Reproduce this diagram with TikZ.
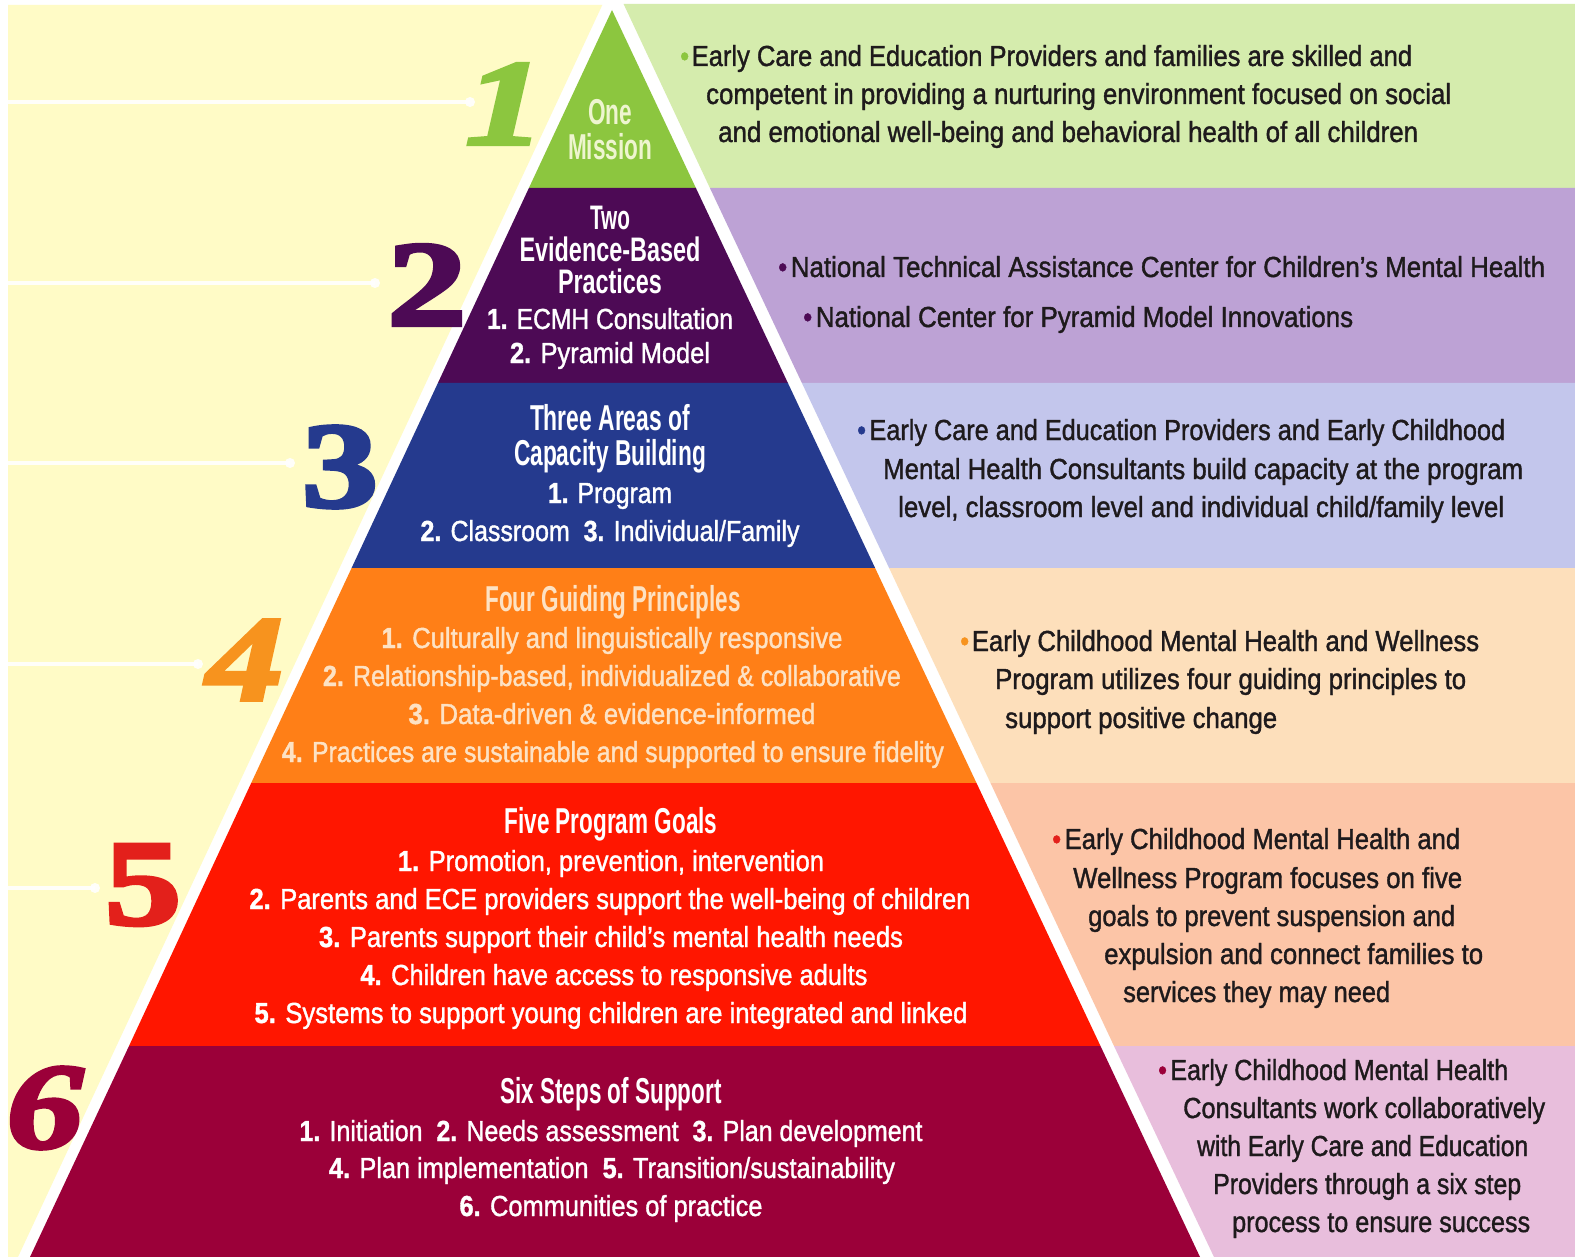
\documentclass[tikz,border=0pt]{standalone}
\usepackage{fontspec}
\usepackage{graphicx}
\setmainfont{Liberation Sans}
\newfontfamily\medfont[FakeBold=1.4]{Liberation Sans}
\newfontfamily\numfont[FakeBold=3]{Liberation Serif}
\usetikzlibrary{calc}
\definecolor{ybg}{HTML}{FFFBC6}
\definecolor{cgreen}{HTML}{8CC63F}
\definecolor{lgreen}{HTML}{D5ECAD}
\definecolor{cpurple}{HTML}{4D0A55}
\definecolor{lpurple}{HTML}{BDA2D5}
\definecolor{cblue}{HTML}{253A8E}
\definecolor{lblue}{HTML}{C3C6EC}
\definecolor{corange}{HTML}{FF7F17}
\definecolor{lpeach}{HTML}{FDDFBB}
\definecolor{cred}{HTML}{FF1600}
\definecolor{lsalmon}{HTML}{FCC5A7}
\definecolor{cmaroon}{HTML}{9B0039}
\definecolor{lpink}{HTML}{E8BEDC}
\definecolor{nfour}{HTML}{F7931E}
\definecolor{nfive}{HTML}{E3201B}
\definecolor{rtxt}{HTML}{1E1A1C}
\definecolor{tone}{HTML}{EEF5CF}
\definecolor{tfour}{HTML}{FDE2C4}
\newsavebox\fwbox
\newcommand\fw[2]{\sbox\fwbox{#2}\pgfmathsetmacro\fwr{#1/\the\wd\fwbox}\scalebox{\fwr}[1]{\usebox\fwbox}}
\tikzset{
  rtext/.style={anchor=base west, inner sep=0pt, text=rtxt, font=\medfont\fontsize{29}{34}\selectfont},
  ptext/.style={anchor=base, inner sep=0pt, font=\medfont\fontsize{29}{34}\selectfont},
  ptitle/.style={anchor=base, inner sep=0pt, font=\fontsize{36}{40}\selectfont\bfseries},
  numeral/.style={inner sep=0pt, anchor=center, font=\fontsize{122}{122}\selectfont\numfont\bfseries},
  guide/.style={draw=white, line width=4pt, opacity=0.9},
}
\begin{document}
\begin{tikzpicture}[x=1pt,y=-1pt]
\useasboundingbox (0,0) rectangle (1575,1257);
\fill[white] (0,0) rectangle (1575,1257);
% left background
\fill[ybg] (8,5) -- (602.3,5) -- (18,1257) -- (8,1257) -- cycle;
% right pastel bands
\fill[lgreen]  (623.6,4) -- (1575,4) -- (1575,188) -- (709.9,188) -- cycle;
\fill[lpurple] (709.9,188) -- (1575,188) -- (1575,383) -- (801.9,383) -- cycle;
\fill[lblue]   (801.9,383) -- (1575,383) -- (1575,568) -- (889.1,568) -- cycle;
\fill[lpeach]  (889.1,568) -- (1575,568) -- (1575,783) -- (990.5,783) -- cycle;
\fill[lsalmon] (990.5,783) -- (1575,783) -- (1575,1046) -- (1114,1046) -- cycle;
\fill[lpink]   (1114,1046) -- (1575,1046) -- (1575,1257) -- (1214,1257) -- cycle;
% pyramid
\coordinate (A) at (612,10);
\coordinate (L1) at (528.9,188);  \coordinate (R1) at (695.9,188);
\coordinate (L2) at (437.9,383);  \coordinate (R2) at (787.9,383);
\coordinate (L3) at (351.6,568);  \coordinate (R3) at (875.1,568);
\coordinate (L4) at (251.2,783);  \coordinate (R4) at (976.5,783);
\coordinate (L5) at (129.0,1046); \coordinate (R5) at (1100.5,1046);
\coordinate (L6) at (30.0,1257);  \coordinate (R6) at (1200.0,1257);
\fill[cgreen]  (A) -- (R1) -- (L1) -- cycle;
\fill[cpurple] (L1) -- (R1) -- (R2) -- (L2) -- cycle;
\fill[cblue]   (L2) -- (R2) -- (R3) -- (L3) -- cycle;
\fill[corange] (L3) -- (R3) -- (R4) -- (L4) -- cycle;
\fill[cred]    (L4) -- (R4) -- (R5) -- (L5) -- cycle;
\fill[cmaroon] (L5) -- (R5) -- (R6) -- (L6) -- cycle;
% guide lines on the left
\foreach \i/\yy/\xx in {1/102/470, 2/283/375, 3/463/290, 4/664/198, 5/888/95} {
  \coordinate (gs\i) at (8,\yy);
  \coordinate (ge\i) at (\xx,\yy);
  \draw[guide] (gs\i) -- (ge\i);
  \fill[white, opacity=0.9] (ge\i) circle (5);
}
% numerals
\node[numeral, text=cgreen] (n1) at (505,104) {\itshape\scalebox{1.3}[1]{1}};
\node[numeral, text=cpurple] (n2) at (427,285) {\scalebox{1.3}[1]{2}};
\node[numeral, text=cblue] (n3) at (340,467) {\scalebox{1.25}[1]{3}};
\node[numeral, text=nfour] (n4) at (245,660) {\itshape\scalebox{1.25}[1]{4}};
\node[numeral, text=nfive] (n5) at (143,885) {\scalebox{1.25}[1]{5}};
\node[numeral, text=cmaroon] (n6) at (45,1108) {\itshape\scalebox{1.25}[1]{6}};
% tier 1
\node[ptitle, text=tone] (t1a) at (610,125) {\fw{44}{One}};
\node[ptitle, text=tone] (t1b) at (610,160) {\fw{84}{Mission}};
% tier 2
\node[ptitle, text=white, font=\fontsize{34}{40}\selectfont\bfseries] (t2a) at (610,230) {\fw{40}{Two}};
\node[ptitle, text=white, font=\fontsize{34}{40}\selectfont\bfseries] (t2b) at (610,262) {\fw{181}{Evidence-Based}};
\node[ptitle, text=white, font=\fontsize{34}{40}\selectfont\bfseries] (t2c) at (610,294) {\fw{104}{Practices}};
\node[ptext, text=white] (t2d) at (610,329) {\fw{246}{\textbf{1.} ECMH Consultation}};
\node[ptext, text=white] (t2e) at (610,363) {\fw{200}{\textbf{2.} Pyramid Model}};
% tier 3
\node[ptitle, text=white] (t3a) at (610,430) {\fw{160}{Three Areas of}};
\node[ptitle, text=white] (t3b) at (610,465) {\fw{192}{Capacity Building}};
\node[ptext, text=white] (t3c) at (610,503) {\fw{124}{\textbf{1.} Program}};
\node[ptext, text=white] (t3d) at (610,541) {\fw{379}{\textbf{2.} Classroom\ \ \textbf{3.} Individual/Family}};
% tier 4
\node[ptitle, text=tfour] (t4a) at (613,611) {\fw{255}{Four Guiding Principles}};
\node[ptext, text=tfour] (t4b) at (612,648) {\fw{461}{\textbf{1.} Culturally and linguistically responsive}};
\node[ptext, text=tfour] (t4c) at (612,686) {\fw{578}{\textbf{2.} Relationship-based, individualized \& collaborative}};
\node[ptext, text=tfour] (t4d) at (612,724) {\fw{407}{\textbf{3.} Data-driven \& evidence-informed}};
\node[ptext, text=tfour] (t4e) at (613,762) {\fw{662}{\textbf{4.} Practices are sustainable and supported to ensure fidelity}};
% tier 5
\node[ptitle, text=white] (t5a) at (611,833) {\fw{213}{Five Program Goals}};
\node[ptext, text=white] (t5b) at (611,871) {\fw{426}{\textbf{1.} Promotion, prevention, intervention}};
\node[ptext, text=white] (t5c) at (610,909) {\fw{721}{\textbf{2.} Parents and ECE providers support the well-being of children}};
\node[ptext, text=white] (t5d) at (611,947) {\fw{584}{\textbf{3.} Parents support their child’s mental health needs}};
\node[ptext, text=white] (t5e) at (614,985) {\fw{507}{\textbf{4.} Children have access to responsive adults}};
\node[ptext, text=white] (t5f) at (611,1023) {\fw{713}{\textbf{5.} Systems to support young children are integrated and linked}};
% tier 6
\node[ptitle, text=white] (t6a) at (611,1103) {\fw{221}{Six Steps of Support}};
\node[ptext, text=white] (t6b) at (611,1141) {\fw{623}{\textbf{1.} Initiation\ \ \textbf{2.} Needs assessment\ \ \textbf{3.} Plan development}};
\node[ptext, text=white] (t6c) at (612,1178) {\fw{566}{\textbf{4.} Plan implementation\ \ \textbf{5.} Transition/sustainability}};
\node[ptext, text=white] (t6d) at (611,1216) {\fw{303}{\textbf{6.} Communities of practice}};
% right texts
\node[rtext] (r1a) at (680,66) {\fw{732}{\textcolor{cgreen}{•}\hspace{3pt}Early Care and Education Providers and families are skilled and}};
\node[rtext] (r1b) at (706,104) {\fw{745}{competent in providing a nurturing environment focused on social}};
\node[rtext] (r1c) at (718,142) {\fw{700}{and emotional well-being and behavioral health of all children}};
\node[rtext] (r2a) at (778,277) {\fw{767}{\textcolor{cpurple}{•}\hspace{4pt}National Technical Assistance Center for Children’s Mental Health}};
\node[rtext] (r2b) at (803,327) {\fw{550}{\textcolor{cpurple}{•}\hspace{4pt}National Center for Pyramid Model Innovations}};
\node[rtext] (r3a) at (857,440) {\fw{648}{\textcolor{cblue}{•}\hspace{4pt}Early Care and Education Providers and Early Childhood}};
\node[rtext] (r3b) at (883,479) {\fw{640}{Mental Health Consultants build capacity at the program}};
\node[rtext] (r3c) at (898,517) {\fw{606}{level, classroom level and individual child/family level}};
\node[rtext] (r4a) at (960,651) {\fw{519}{\textcolor{nfour}{•}\hspace{3pt}Early Childhood Mental Health and Wellness}};
\node[rtext] (r4b) at (995,689) {\fw{471}{Program utilizes four guiding principles to}};
\node[rtext] (r4c) at (1005,728) {\fw{272}{support positive change}};
\node[rtext] (r5a) at (1052,849) {\fw{408}{\textcolor{nfive}{•}\hspace{4pt}Early Childhood Mental Health and}};
\node[rtext] (r5b) at (1073,888) {\fw{389}{Wellness Program focuses on five}};
\node[rtext] (r5c) at (1088,926) {\fw{367}{goals to prevent suspension and}};
\node[rtext] (r5d) at (1104,964) {\fw{379}{expulsion and connect families to}};
\node[rtext] (r5e) at (1123,1002) {\fw{267}{services they may need}};
\node[rtext] (r6a) at (1158,1080) {\fw{350}{\textcolor{cmaroon}{•}\hspace{4pt}Early Childhood Mental Health}};
\node[rtext] (r6b) at (1183,1118) {\fw{362}{Consultants work collaboratively}};
\node[rtext] (r6c) at (1197,1156) {\fw{331}{with Early Care and Education}};
\node[rtext] (r6d) at (1213,1194) {\fw{308}{Providers through a six step}};
\node[rtext] (r6e) at (1232,1232) {\fw{298}{process to ensure success}};
\end{tikzpicture}
\end{document}
